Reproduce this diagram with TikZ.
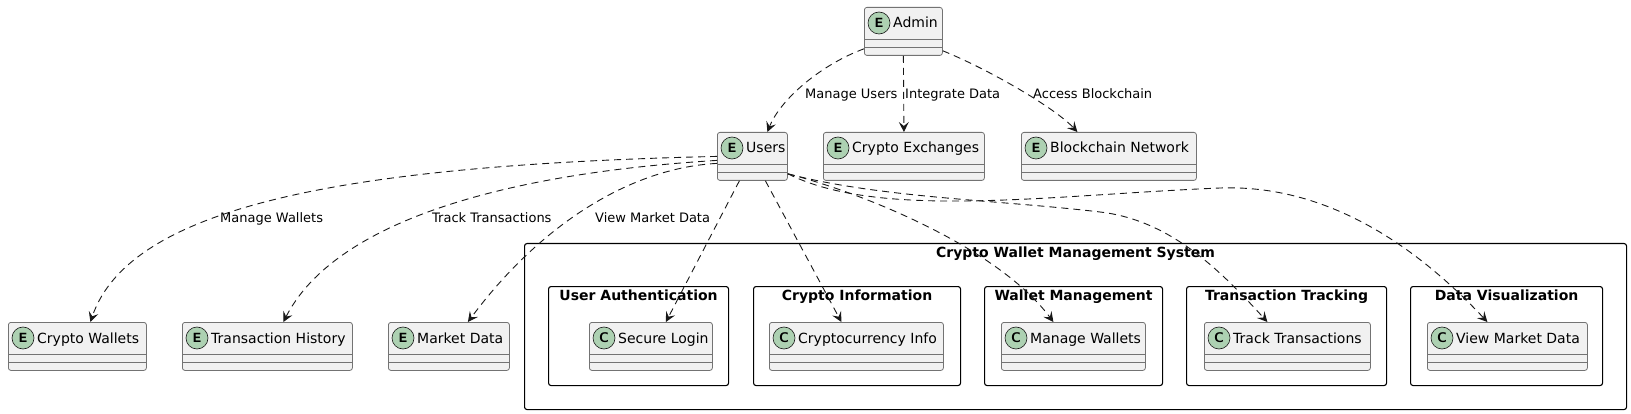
\documentclass[tikz,border=0pt]{standalone}
\usepackage{fontspec}
\setmainfont{DejaVu Sans}
\setmonofont{Liberation Mono}
\usetikzlibrary{arrows.meta, positioning, calc}

\definecolor{boxfill}{HTML}{F1F1F1}
\definecolor{badgegreen}{HTML}{ADD1B2}
\definecolor{edgeline}{HTML}{181818}

\newcommand{\umlbox}[6]{%
  \node [umlbox, minimum width=#4pt] (#1) at (#2,#3) {};
  \draw [umlsep] ($(#1.north west)+(0,32)$) -- ($(#1.north east)+(0,32)$);
  \draw [umlsep] ($(#1.north west)+(0,40)$) -- ($(#1.north east)+(0,40)$);
  \node [umlbadge] (#1-badge) at ($(#1.north west)+(15,16)$) {#5};
  \node [umlname] (#1-name) at ($(#1.north west)+(29,21)$) {#6};
}
\newcommand{\umlpkg}[6]{%
  \node [umlpkg, minimum width=#4pt, minimum height=#5pt] (#1) at (#2,#3) {};
  \node [pkgtitle] (#1-title) at ($(#1.north)+(0,15)$) {#6};
}

\begin{document}
\begin{tikzpicture}[x=1pt, y=-1pt,
  umlbox/.style={draw=black!55, line width=0.8pt, fill=boxfill, rounded corners=2.5pt,
    anchor=north west, minimum height=48pt, inner sep=0pt},
  umlsep/.style={draw=black!55, line width=0.8pt},
  umlbadge/.style={circle, draw=edgeline, line width=0.6pt, fill=badgegreen, minimum size=22pt,
    inner sep=0pt, font=\fontsize{14}{14}\selectfont\ttfamily\bfseries},
  umlname/.style={anchor=base west, inner sep=0pt, font=\fontsize{14}{16}\selectfont},
  umlpkg/.style={draw=black, line width=1.1pt, rounded corners=2.5pt, anchor=north west, inner sep=0pt},
  pkgtitle/.style={anchor=base, inner sep=0pt, font=\fontsize{14}{16}\selectfont\bfseries},
  dep/.style={draw=edgeline, line width=0.9pt, dash pattern=on 7pt off 5pt,
    -{Stealth[length=10pt, width=10pt, inset=4pt]}},
  deplabel/.style={anchor=base west, inner sep=0pt, font=\fontsize{13}{15}\selectfont}]
\useasboundingbox (0,0) rectangle (1631,414);

\umlpkg{sys}{524}{243}{1102}{166}{Crypto Wallet Management System}
\umlpkg{auth}{548}{286}{180}{99}{User Authentication}
\umlpkg{info}{753}{286}{207}{99}{Crypto Information}
\umlpkg{walletmgmt}{984}{286}{178}{99}{Wallet Management}
\umlpkg{tracking}{1186}{286}{200}{99}{Transaction Tracking}
\umlpkg{dataviz}{1410}{286}{192}{99}{Data Visualization}

\umlbox{admin}{864}{7}{78}{E}{Admin}
\umlbox{users}{717}{132}{70}{E}{Users}
\umlbox{exch}{823}{132}{161}{E}{Crypto Exchanges}
\umlbox{chain}{1021}{132}{175}{E}{Blockchain Network}
\umlbox{wallets}{8}{322}{138}{E}{Crypto Wallets}
\umlbox{history}{182}{322}{170}{E}{Transaction History}
\umlbox{market}{388}{322}{121}{E}{Market Data}
\umlbox{login}{589}{322}{123}{\sffamily C}{Secure Login}
\umlbox{cinfo}{769}{322}{174}{\sffamily C}{Cryptocurrency Info}
\umlbox{mwallets}{1001}{322}{144}{\sffamily C}{Manage Wallets}
\umlbox{ttrack}{1204}{322}{166}{\sffamily C}{Track Transactions}
\umlbox{vmd}{1427}{322}{160}{\sffamily C}{View Market Data}

\draw [dep] ($(admin.south west)+(0,-7)$) .. controls (820,65) and (780,100) .. ($(users.north)+(15,0)$);
\draw [dep] (admin.south) -- (exch.north);
\draw [dep] ($(admin.south east)+(0,-5)$) .. controls (990,70) and (1055,108) .. ($(chain.north)+(-31.5,0)$);
\node [deplabel] (lbl-users) at (805,99) {Manage Users};
\node [deplabel] (lbl-exch) at (905,99) {Integrate Data};
\node [deplabel] (lbl-chain) at (1033,99) {Access Blockchain};

\draw [dep] (users.west) .. controls (350,165) and (130,205) .. ($(wallets.north)+(13,0)$);
\draw [dep] ($(users.west)+(0,4)$) .. controls (480,175) and (330,230) .. ($(history.north)+(16,0)$);
\draw [dep] ($(users.west)+(0,7)$) .. controls (630,168) and (540,225) .. ($(market.north)+(19,0)$);
\draw [dep] ($(users.south)+(-13,0)$) -- ($(login.north)+(15,0)$);
\draw [dep] ($(users.south)+(13,0)$) -- ($(cinfo.north)+(-15,0)$);
\draw [dep] ($(users.south east)+(0,-7)$) .. controls (870,195) and (1000,250) .. ($(mwallets.north)+(-20,0)$);
\draw [dep] ($(users.south east)+(0,-7)$) .. controls (880,198) and (1000,200) .. (1100,212)
  .. controls (1170,220) and (1220,270) .. ($(ttrack.north)+(-20,0)$);
\draw [dep] ($(users.south east)+(0,-7)$) .. controls (880,220) and (1050,195) .. (1220,188)
  .. controls (1330,184) and (1420,250) .. ($(vmd.north)+(-20,0)$);
\node [deplabel] (lbl-wallets) at (220,223) {Manage Wallets};
\node [deplabel] (lbl-history) at (432,223) {Track Transactions};
\node [deplabel] (lbl-market) at (595,223) {View Market Data};
\end{tikzpicture}
\end{document}
